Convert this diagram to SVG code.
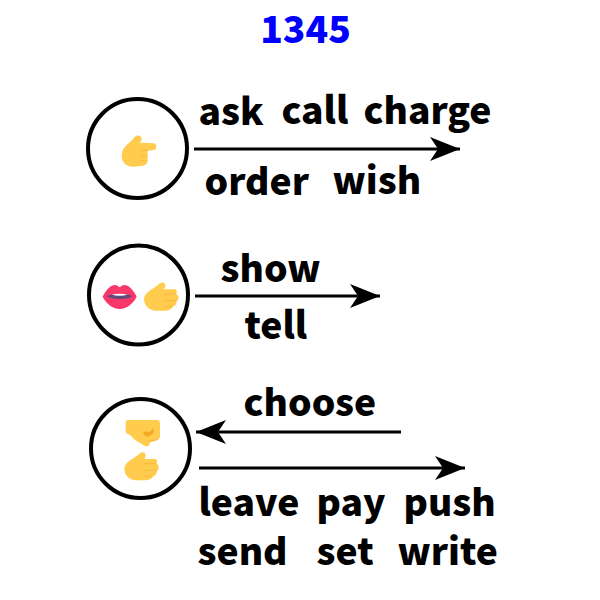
<svg xmlns="http://www.w3.org/2000/svg" xmlns:xlink="http://www.w3.org/1999/xlink" width="600" height="600" viewBox="0 0 600 600">
<style>
text{font-family:"Noto Sans CJK SC","Noto Sans",sans-serif;font-weight:900;font-size:37.200px;fill:#000}
.title{fill:#0000ff;text-anchor:middle}
.ring{fill:#fff;stroke:#000;stroke-width:4}
.line{stroke:#000;stroke-width:3;fill:none;marker-end:url(#head)}
.skin{fill:#FFCC4D}
.crease{fill:none;stroke:#F7B53E;stroke-width:2.500;stroke-linecap:round}
</style>
<defs>
<marker id="head" markerUnits="userSpaceOnUse" markerWidth="32" markerHeight="26" refX="31" refY="13" orient="auto">
<path d="M1,1 L31,13 L1,25 L9,13Z" fill="#000"/>
</marker>
<g id="openhand">
<path class="skin" d="M192,175C195,155 225,145 240,130C248,124 258,130 256,140L252,148L285,148C292,150 292,160 288,162C298,165 298,180 290,183C290,192 285,198 278,200C275,208 265,212 255,212L225,212C205,210 192,195 192,175Z"/>
<path class="crease" d="M254,162H286M256,182H288M252,199H276"/>
</g>
</defs>
<g id="title"><text class="title" x="305.500" y="43">1345</text></g>
<g id="connectors">
<line class="line" x1="194" y1="149" x2="460" y2="149"/>
<line class="line" x1="195" y1="296" x2="380" y2="296"/>
<line class="line" x1="401" y1="432" x2="196" y2="432"/>
<line class="line" x1="199" y1="468" x2="465" y2="468"/>
</g>
<g id="node1">
<circle class="ring" cx="137.500" cy="148.500" r="49.500"/>
<g transform="translate(80,90) scale(.3333)">
<path class="skin" d="M125,195C125,170 150,160 165,140C172,132 188,138 185,150L180,158L222,160C232,162 232,178 222,180L203,182L203,215C200,225 190,228 175,229L160,230C135,230 125,215 125,195Z"/>
<path class="crease" d="M186,181H203M185,197H200M184,212H198"/>
</g>
</g>
<g id="node2">
<circle class="ring" cx="138.500" cy="295" r="49.500"/>
<g transform="translate(80,240) scale(.3333)">
<path d="M68,170C75,155 90,135 105,135C112,135 116,140 119,142C122,140 126,135 133,135C148,135 163,155 170,170C160,190 140,207 119,207C98,207 78,190 68,170Z" fill="#F8386A"/>
<path d="M80,168C95,160 143,160 158,168C145,180 93,180 80,168Z" fill="#5F4B7C"/>
<path d="M95,164C110,160 128,160 143,164C128,168 110,168 95,164Z" fill="#fff"/>
</g>
<use xlink:href="#openhand" href="#openhand" transform="translate(80,240) scale(.3333)"/>
</g>
<g id="node3">
<circle class="ring" cx="140.500" cy="448.500" r="49.500"/>
<g transform="translate(85,380) scale(.3333)">
<path class="skin" d="M122,128Q122,120 130,120L215,120Q225,120 225,130L225,165C225,180 210,186 195,186L193,195C188,202 180,198 175,195L150,180C140,170 135,163 128,162Q122,160 122,152Z"/>
<path d="M174,155L195,155L207,143L205,160L190,170L180,168Z" fill="#F5A623"/>
<path class="crease" d="M190,183C205,183 218,180 223,170"/>
</g>
<use xlink:href="#openhand" href="#openhand" transform="translate(85,380) scale(.3333) translate(-74,89)"/>
</g>
<g id="labels">
<text x="198.500" y="125">ask</text>
<text x="281.500" y="124">call</text>
<text x="363.500" y="124">charge</text>
<text x="204.500" y="195">order</text>
<text x="332.500" y="194">wish</text>
<text x="220.500" y="282">show</text>
<text x="244.500" y="339">tell</text>
<text x="243.500" y="416">choose</text>
<text x="198.500" y="516">leave</text>
<text x="316.500" y="516">pay</text>
<text x="403.500" y="516">push</text>
<text x="197.500" y="565">send</text>
<text x="316.500" y="565">set</text>
<text x="397.500" y="565">write</text>
</g>
</svg>
